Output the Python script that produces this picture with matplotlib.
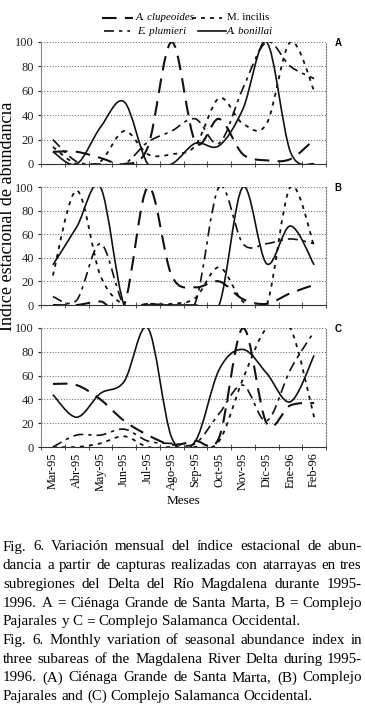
import matplotlib
matplotlib.use("Agg")
import matplotlib.pyplot as plt
from matplotlib.path import Path
from matplotlib.patches import PathPatch
from matplotlib.lines import Line2D

# datos
meses = ["Mar-95", "Abr-95", "May-95", "Jun-95", "Jul-95", "Ago-95",
         "Sep-95", "Oct-95", "Nov-95", "Dic-95", "Ene-96", "Feb-96"]

# A = Cienaga Grande de Santa Marta
clupeoides_a = [10, 10, 5, 0, 14, 100, 18, 37, 8, 3, 4, 20]
incilis_a = [14, 0, 2, 27, 8, 8, 15, 54, 33, 33, 100, 60]
plumieri_a = [20, 2, 0, 0, 18, 27, 37, 17, 62, 100, 80, 70]
bonillai_a = [10, 0, 30, 51, 0, 0, 17, 15, 45, 100, 10, 0]

# B = Complejo Pajarales
clupeoides_b = [0, 0, 3, 0, 100, 25, 15, 20, 5, 1, 10, 17]
incilis_b = [25, 97, 25, 0, 1, 1, 6, 32, 3, 0, 100, 50]
plumieri_b = [7, 4, 52, 0, 1, 0, 2, 100, 52, 52, 56, 52]
bonillai_b = [34, 66, 100, 0, 0, 0, 0, 0, 100, 35, 67, 34]

# C = Complejo Salamanca Occidental
clupeoides_c = [53, 52, 40, 22, 10, 2, 5, 8, 100, 20, 35, 37]
incilis_c = [0, 0, 3, 9, 0, 0, 0, 5, 57, 100, 100, 25]
plumieri_c = [0, 10, 10, 15, 5, 3, 3, 28, 52, 22, 65, 97]
bonillai_c = [44, 25, 45, 55, 100, 8, 5, 65, 82, 62, 38, 77]

especies = ["A. clupeoides", "M. incilis", "E. plumieri", "A. bonillai"]

caption_es = [
    "Fig. 6. Variación mensual del índice estacional de abun-",
    "dancia a partir de capturas realizadas con atarrayas en tres",
    "subregiones del Delta del Río Magdalena durante 1995-",
    "1996. A = Ciénaga Grande de Santa Marta, B = Complejo",
    "Pajarales y C = Complejo Salamanca Occidental.",
]
caption_en = [
    "Fig. 6. Monthly variation of seasonal abundance index in",
    "three subareas of the Magdalena River Delta during 1995-",
    "1996. (A) Ciénaga Grande de Santa Marta, (B) Complejo",
    "Pajarales and (C) Complejo Salamanca Occidental.",
]

SERIF = ["Liberation Serif", "DejaVu Serif"]
plt.rcParams["font.family"] = SERIF

W, H = 365, 705
fig = plt.figure(figsize=(W / 100, H / 100), dpi=100)

# estilos de linea de cada especie
estilos = {
    "A. clupeoides": dict(linestyle=(0, (7, 4)), linewidth=1.5),
    "M. incilis": dict(linestyle=(0, (2.2, 2.8)), linewidth=1.3),
    "E. plumieri": dict(linestyle=(0, (6, 3, 2, 3)), linewidth=1.2),
    "A. bonillai": dict(linestyle="-", linewidth=1.2),
}


def fx(px):
    return px / W


def fy(py):
    return 1 - py / H


def curva_suave(ax, valores, **kw):
    """Linea suavizada tipo Excel (Bezier con puntos de control Catmull-Rom)"""
    pts = list(enumerate(valores))
    n = len(pts)
    verts = [pts[0]]
    codes = [Path.MOVETO]
    for i in range(n - 1):
        p0 = pts[i - 1] if i > 0 else pts[i]
        p1 = pts[i]
        p2 = pts[i + 1]
        p3 = pts[i + 2] if i + 2 < n else pts[i + 1]
        c1 = (p1[0] + (p2[0] - p0[0]) / 6, p1[1] + (p2[1] - p0[1]) / 6)
        c2 = (p2[0] - (p3[0] - p1[0]) / 6, p2[1] - (p3[1] - p1[1]) / 6)
        verts += [c1, c2, p2]
        codes += [Path.CURVE4] * 3
    patch = PathPatch(Path(verts, codes), fill=False, edgecolor="#111111",
                      capstyle="butt", **kw)
    ax.add_patch(patch)


paneles = [
    ("A", (42, 164), [clupeoides_a, incilis_a, plumieri_a, bonillai_a]),
    ("B", (187, 305), [clupeoides_b, incilis_b, plumieri_b, bonillai_b]),
    ("C", (328, 447), [clupeoides_c, incilis_c, plumieri_c, bonillai_c]),
]

x_left, x_right = 41, 326
for k, (letra, (ytop, ybot), series) in enumerate(paneles):
    ax = fig.add_axes([fx(x_left), fy(ybot), fx(x_right - x_left), (ybot - ytop) / H])
    for nombre, vals in zip(especies, series):
        curva_suave(ax, vals, **estilos[nombre])
    ax.set_xlim(-0.5, len(meses) - 0.5)
    ax.set_ylim(0, 100)
    ax.set_yticks(range(0, 101, 20))
    ax.tick_params(axis="y", labelsize=9, length=2, pad=3, colors="#222222")
    for g in range(20, 101, 20):
        ax.axhline(g, color="#777777", lw=0.8, ls=(0, (1, 1.5)), zorder=0)
    ax.spines["top"].set_visible(False)
    ax.spines["right"].set_linestyle((0, (1, 1.5)))
    ax.spines["right"].set_color("#777777")
    ax.spines["right"].set_linewidth(0.8)
    ax.spines["left"].set_color("#888888")
    ax.spines["bottom"].set_color("#333333")
    ax.set_xticks([i - 0.5 for i in range(len(meses) + 1)], minor=True)
    ax.tick_params(axis="x", which="minor", direction="inout", length=4, color="#333333")
    ax.set_xticks(range(len(meses)))
    ax.tick_params(axis="x", which="major", length=0, pad=4)
    if k == 2:
        ax.set_xticklabels(meses, rotation=90, fontsize=8.8)
        ax.set_xlabel("Meses", fontsize=9.5, labelpad=3)
    else:
        ax.set_xticklabels([])
    fig.text(fx(338), fy(ytop + 1), letra, fontsize=7, fontweight="bold",
             family=["Liberation Sans", "DejaVu Sans"], ha="center", va="center")

fig.text(fx(8), fy(216), "Indice estacional de abundancia", rotation=90,
         fontsize=13, ha="center", va="center")

# leyenda
leyenda = [
    ("A. clupeoides", (102, 133), 18, 136, "italic"),
    ("M. incilis", (192, 222), 18, 227, "normal"),
    ("E. plumieri", (104, 130), 31, 137, "italic"),
    ("A. bonillai", (198, 226), 31, 227, "italic"),
]
for nombre, (x0, x1), yy, xt, estilo in leyenda:
    fig.add_artist(Line2D([fx(x0), fx(x1)], [fy(yy), fy(yy)], color="#111111",
                          transform=fig.transFigure, **estilos[nombre]))
    fig.text(fx(xt), fy(yy), nombre, fontsize=7.8, style=estilo, ha="left", va="center")

# pie de figura justificado
renderer = fig.canvas.get_renderer()


def linea_justificada(texto, ypix, justificar=True, x0=3, x1=362, size=10.8):
    palabras = texto.split(" ")
    objs = [fig.text(0, fy(ypix), p, fontsize=size, ha="left", va="center") for p in palabras]
    anchos = [o.get_window_extent(renderer).width for o in objs]
    if justificar and len(palabras) > 1:
        hueco = (x1 - x0 - sum(anchos)) / (len(palabras) - 1)
    else:
        hueco = size * 100 / 72 * 0.25
    x = x0
    for o, w in zip(objs, anchos):
        o.set_x(fx(x))
        x += w + hueco


lineas = caption_es + caption_en
y0 = 547
for i, linea in enumerate(lineas):
    ultima = (i == len(caption_es) - 1) or (i == len(lineas) - 1)
    linea_justificada(linea, y0 + i * 18.7, justificar=not ultima)

fig.savefig("out.png", dpi=100)
